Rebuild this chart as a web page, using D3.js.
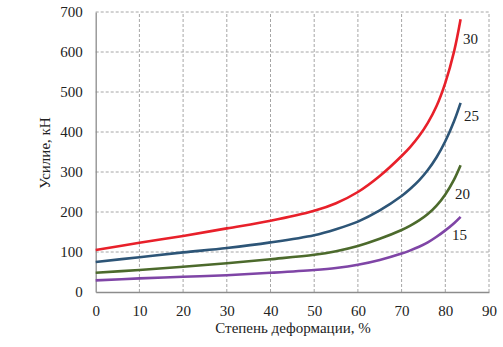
<!DOCTYPE html>
<html><head><meta charset="utf-8">
<script src="https://cdn.jsdelivr.net/npm/d3@7"></script>
<style>
html,body{margin:0;padding:0;background:#fff;}
svg{display:block;}
</style></head>
<body>
<svg id="chart" width="503" height="347"></svg>
<script>
const xValues = [0, 10, 20, 30, 40, 50, 55, 60, 65, 70, 72, 74, 76, 78, 80, 82, 83.5];
const series30 = [105, 123, 140, 159, 178, 203, 222, 250, 290, 340, 363, 390, 423, 465, 523, 601, 682];
const series25 = [75, 87, 99, 110, 124, 142, 157, 176, 204, 240, 258, 279, 305, 337, 377, 427, 473];
const series20 = [48, 55, 63, 72, 82, 93, 102, 115, 133, 155, 166, 179, 195, 216, 244, 281, 317];
const series15 = [29, 34, 38, 42, 48, 55, 60, 68, 80, 96, 104, 113, 124, 138, 154, 172, 188];
const seriesNames = ["30", "25", "20", "15"];
const xTicks = [0, 10, 20, 30, 40, 50, 60, 70, 80, 90];
const yTicks = [0, 100, 200, 300, 400, 500, 600, 700];
const xTitle = "Степень деформации, %";
const yTitle = "Усилие, кН";

const seriesData = [series30, series25, series20, series15];
const colors = {"30": "#e8202a", "25": "#2d5577", "20": "#4c6a2c", "15": "#7f45a6"};
const labelOffset = {"30": [10, 21], "25": [11, 15], "20": [2, 30], "15": [-1, 20]};
const FONT = "'Liberation Serif', 'Times New Roman', Times, serif";

const svg = d3.select("#chart");
const x = d3.scaleLinear().domain([0, 90]).range([95.7, 489]);
const y = d3.scaleLinear().domain([0, 700]).range([292, 12]);

// grid
const grid = svg.append("g");
grid.selectAll("line.h").data(yTicks.filter(d => d > 0)).enter().append("line")
  .attr("x1", x(0)).attr("x2", x(90)).attr("y1", d => y(d)).attr("y2", d => y(d))
  .attr("stroke", "#a6a6a6").attr("stroke-width", 1).attr("stroke-dasharray", "3,2");
grid.selectAll("line.v").data(xTicks.filter(d => d > 0)).enter().append("line")
  .attr("y1", y(0)).attr("y2", y(700)).attr("x1", d => x(d)).attr("x2", d => x(d))
  .attr("stroke", "#a6a6a6").attr("stroke-width", 1).attr("stroke-dasharray", "3,2");

// axes
const xAxis = svg.append("g").attr("transform", `translate(0,${y(0)})`)
  .call(d3.axisBottom(x).tickValues(xTicks).tickSize(0).tickPadding(13));
const yAxis = svg.append("g").attr("transform", `translate(${x(0)},0)`)
  .call(d3.axisLeft(y).tickValues(yTicks).tickSize(0).tickPadding(13));
[xAxis, yAxis].forEach(a => {
  a.attr("font-family", null).attr("font-size", null);
  a.select(".domain").attr("stroke", "#8c8c8c").attr("stroke-width", 1.3);
  a.selectAll("text").style("font-family", FONT).style("font-size", "15px").attr("fill", "#222");
});

// lines
const line = d3.line().x((d, i) => x(xValues[i])).y(d => y(d)).curve(d3.curveCatmullRom.alpha(0.5));
seriesData.forEach((s, k) => {
  const name = seriesNames[k];
  svg.append("path").datum(s).attr("d", line)
    .attr("fill", "none").attr("stroke", colors[name]).attr("stroke-width", 2.6);
  const last = s.length - 1;
  svg.append("text")
    .attr("x", x(xValues[last]) + labelOffset[name][0])
    .attr("y", y(s[last]) + labelOffset[name][1])
    .attr("text-anchor", "middle").attr("dominant-baseline", "middle")
    .style("font-family", FONT).style("font-size", "15px").attr("fill", "#222").text(name);
});

// titles
svg.append("text").attr("x", 293).attr("y", 330).attr("text-anchor", "middle")
  .attr("dominant-baseline", "middle").style("font-family", FONT).style("font-size", "15px")
  .attr("fill", "#222").text(xTitle);
svg.append("text").attr("transform", "translate(47,153) rotate(-90)")
  .attr("text-anchor", "middle").attr("dominant-baseline", "middle")
  .style("font-family", FONT).style("font-size", "15px").attr("fill", "#222").text(yTitle);
</script>
</body></html>
